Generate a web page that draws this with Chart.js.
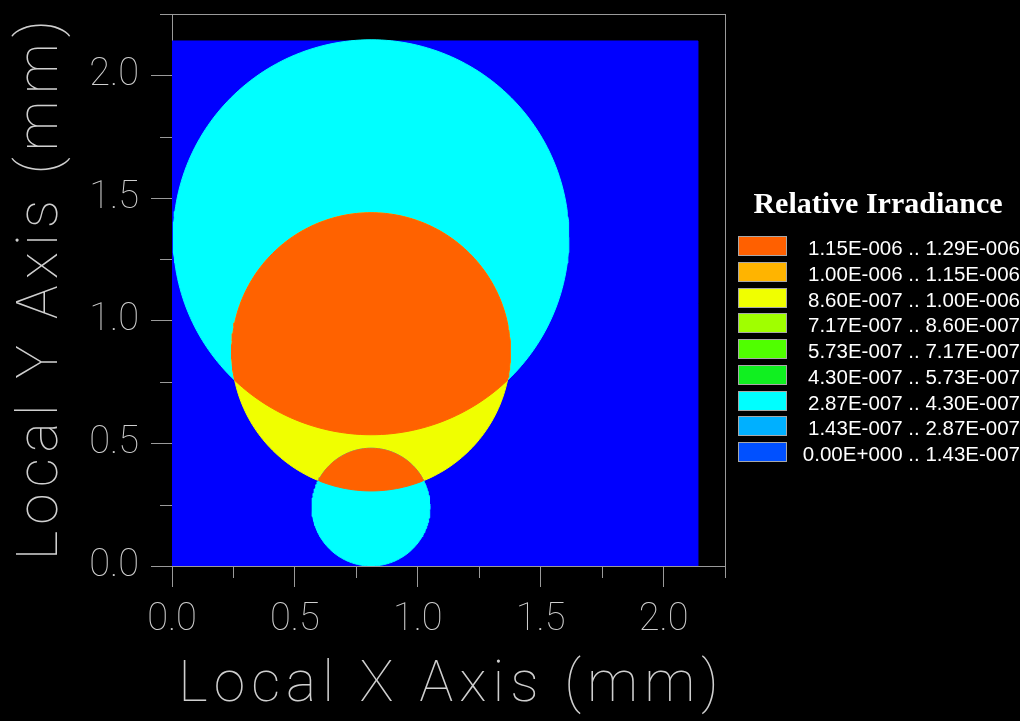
<!DOCTYPE html>
<html><head><meta charset="utf-8">
<script src="https://cdn.jsdelivr.net/npm/chart.js@4/dist/chart.umd.min.js"></script>
<style>html,body{margin:0;padding:0;background:#000;overflow:hidden}#wrap{width:1020px;height:721px;position:relative}</style>
</head><body><div id="wrap"><canvas id="c"></canvas></div>
<script>
// ---- data ----
const axisMax = 2.25;                       // axis range (mm)
const majorTickValues = [0, 0.5, 1.0, 1.5, 2.0];
const xTickLabels = ['0.0', '0.5', '1.0', '1.5', '2.0'];
const yTickLabels = ['0.0', '0.5', '1.0', '1.5', '2.0'];
const xTitle = 'Local X Axis (mm)';
const yTitle = 'Local Y Axis (mm)';
const detectorSize = [2.14, 2.14];          // simulated detector extent x, y (mm)
// spots: large, medium, small
const spotCenterX = [0.81, 0.81, 0.81];
const spotCenterY = [1.34, 0.873, 0.24];
const spotRadius  = [0.805, 0.567, 0.24];
const regionColors = { background: '#0000FF', single: '#00FFFF', medium: '#F0FF00', overlap: '#FF6200' };
const legendTitle = 'Relative Irradiance';
const levelLabels = [
  '1.15E-006 .. 1.29E-006',
  '1.00E-006 .. 1.15E-006',
  '8.60E-007 .. 1.00E-006',
  '7.17E-007 .. 8.60E-007',
  '5.73E-007 .. 7.17E-007',
  '4.30E-007 .. 5.73E-007',
  '2.87E-007 .. 4.30E-007',
  '1.43E-007 .. 2.87E-007',
  '0.00E+000 .. 1.43E-007'
];
const levelColors = ['#FF6000', '#FFB400', '#F0FF00', '#A0FF00', '#50FF00', '#10F020', '#00FFFF', '#00B0FF', '#0050FF'];

// ---- geometry helpers (outline of circles / overlaps) ----
const N = 240;
function circleArc(cx, cy, r, a0, a1, n) {
  const pts = [];
  for (let i = 0; i <= n; i++) {
    const a = a0 + (a1 - a0) * i / n;
    pts.push({ x: cx + r * Math.cos(a), y: cy + r * Math.sin(a) });
  }
  return pts;
}
function circle(i) {
  return circleArc(spotCenterX[i], spotCenterY[i], spotRadius[i], 0, 2 * Math.PI, N);
}
function inside(p, j) {
  const dx = p.x - spotCenterX[j], dy = p.y - spotCenterY[j];
  return dx * dx + dy * dy <= spotRadius[j] * spotRadius[j];
}
function arcInside(i, j) {
  const a0 = Math.atan2(spotCenterY[i] - spotCenterY[j], spotCenterX[i] - spotCenterX[j]);
  const pts = circleArc(spotCenterX[i], spotCenterY[i], spotRadius[i], a0, a0 + 2 * Math.PI, N);
  return pts.filter(p => inside(p, j));
}
function overlap(i, j) {
  const pts = arcInside(i, j).concat(arcInside(j, i));
  if (pts.length) pts.push(pts[0]);
  return pts;
}
const rectPts = [{x:0,y:0},{x:detectorSize[0],y:0},{x:detectorSize[0],y:detectorSize[1]},{x:0,y:detectorSize[1]},{x:0,y:0}];

function region(data, color, order) {
  return { data, backgroundColor: color, borderColor: color, borderWidth: 1, fill: 'shape',
           pointRadius: 0, pointHoverRadius: 0, tension: 0, order };
}
const datasets = [
  region(rectPts, regionColors.background, 6),
  region(circle(0), regionColors.single, 5),
  region(circle(1), regionColors.medium, 4),
  region(overlap(0, 1), regionColors.overlap, 3),
  region(circle(2), regionColors.single, 2),
  region(overlap(2, 1), regionColors.overlap, 1)
];

// ---- styling ----
const axisGray = '#9a9a9a';
const textGray = '#cfcfcf';
const isMajor = v => Math.abs(v * 2 - Math.round(v * 2)) < 1e-6;
const isEnd = v => Math.abs(v - axisMax) < 1e-6;
const labelFor = labels => v => {
  const i = majorTickValues.findIndex(m => Math.abs(m - v) < 1e-6);
  return i >= 0 ? labels[i] : '';
};

const background = {
  id: 'background',
  beforeDraw(chart) {
    const c = chart.ctx; c.save(); c.fillStyle = '#000'; c.fillRect(0, 0, chart.width, chart.height); c.restore();
  }
};
const minorTicks = {
  id: 'minorTicks',
  afterDraw(chart) {
    const c = chart.ctx, a = chart.chartArea, sx = chart.scales.x, sy = chart.scales.y;
    c.save(); c.strokeStyle = axisGray; c.lineWidth = 1;
    sx.ticks.forEach(t => {
      if (isMajor(t.value)) return;
      const px = Math.round(sx.getPixelForValue(t.value)) + 0.5;
      c.beginPath(); c.moveTo(px, a.bottom); c.lineTo(px, a.bottom + 12); c.stroke();
    });
    sy.ticks.forEach(t => {
      if (isMajor(t.value)) return;
      const py = Math.round(sy.getPixelForValue(t.value)) + 0.5;
      c.beginPath(); c.moveTo(a.left, py); c.lineTo(a.left - 12, py); c.stroke();
    });
    c.restore();
  }
};
const axisTitles = {
  id: 'axisTitles',
  afterDraw(chart) {
    const c = chart.ctx, a = chart.chartArea;
    c.save();
    c.fillStyle = textGray;
    c.font = '100 57px Roboto, "DejaVu Sans", sans-serif';
    c.letterSpacing = '6px';
    c.textAlign = 'center'; c.textBaseline = 'alphabetic';
    c.fillText(xTitle, (a.left + a.right) / 2 + 3, 701);
    c.translate(57, (a.top + a.bottom) / 2);
    c.rotate(-Math.PI / 2);
    c.fillText(yTitle, 3, 0);
    c.restore();
  }
};
const levelLegend = {
  id: 'levelLegend',
  afterDraw(chart) {
    const c = chart.ctx;
    c.save();
    c.letterSpacing = '0px';
    c.fillStyle = '#ffffff';
    c.font = 'bold 30px "Liberation Serif", "Times New Roman", serif';
    c.textAlign = 'center'; c.textBaseline = 'alphabetic';
    c.fillText(legendTitle, 878, 213);
    c.font = '20.5px "Liberation Sans", Arial, sans-serif';
    c.textAlign = 'right';
    levelLabels.forEach((lab, i) => {
      const top = Math.round(236 + i * 25.75);
      c.fillStyle = levelColors[i];
      c.fillRect(738, top, 49, 20);
      c.strokeStyle = '#a8a8a8'; c.lineWidth = 1;
      c.strokeRect(738.5, top + 0.5, 48, 19);
      c.fillStyle = '#ffffff';
      c.fillText(lab, 1020, top + 19);
    });
    c.restore();
  }
};

function axis(labels, isX) {
  return {
    type: 'linear', min: 0, max: axisMax, z: 1,
    border: { display: true, color: axisGray, width: 1 },
    grid: {
      drawOnChartArea: true,
      color: ctx => (ctx.tick && isEnd(ctx.tick.value)) ? axisGray : 'rgba(0,0,0,0)',
      tickColor: ctx => (ctx.tick && isMajor(ctx.tick.value)) ? axisGray : 'rgba(0,0,0,0)',
      tickLength: 21, lineWidth: 1
    },
    ticks: {
      stepSize: 0.25, autoSkip: false, maxRotation: 0, minRotation: 0,
      callback: labelFor(labels), color: textGray,
      padding: isX ? 14 : 12,
      font: { family: 'Roboto', weight: '100', size: 38, lineHeight: 1 }
    },
    title: { display: false },
    afterFit(scale) {
      if (isX) scale.height = 155; else scale.width = 172;
      scale.paddingTop = 0; scale.paddingBottom = 0; scale.paddingLeft = 0; scale.paddingRight = 0;
    }
  };
}

new Chart(document.getElementById('c'), {
  type: 'line',
  data: { datasets },
  options: {
    responsive: true, maintainAspectRatio: false, animation: false,
    layout: { padding: { top: 14, right: 295, left: 0, bottom: 0 } },
    plugins: { legend: { display: false }, tooltip: { enabled: false } },
    scales: {
      x: axis(xTickLabels, true),
      y: axis(yTickLabels, false)
    }
  },
  plugins: [background, minorTicks, axisTitles, levelLegend]
});
</script></body></html>
